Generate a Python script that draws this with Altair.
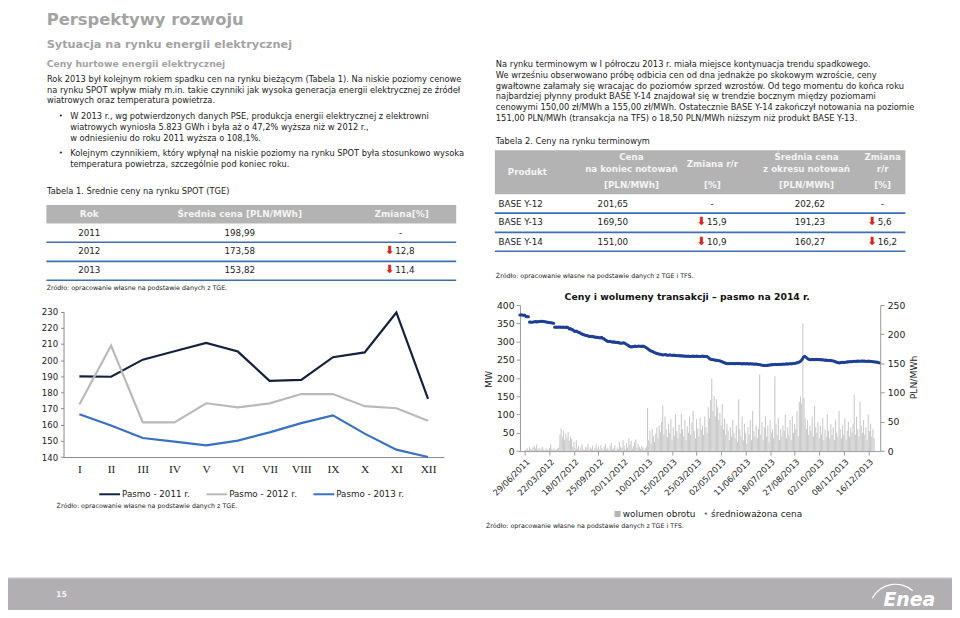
import json
import altair as alt
import pandas as pd

OFF = 8
W, H = 952, 602
FONT = "DejaVu Sans"
SERIF = "Liberation Serif"

# ---------------- data ----------------
months = list(range(1, 13))
month_labels = ["I", "II", "III", "IV", "V", "VI", "VII", "VIII", "IX", "X", "XI", "XII"]
pasmo_2011 = [190.0, 189.7, 200.3, 205.5, 210.7, 205.3, 187.2, 187.8, 201.8, 204.8, 229.5, 176.0]
pasmo_2012 = [172.5, 209.0, 161.5, 161.5, 173.3, 170.8, 173.2, 179.0, 179.0, 171.5, 170.2, 162.5]
pasmo_2013 = [166.5, 159.5, 151.8, 149.5, 147.2, 150.2, 155.3, 161.0, 165.8, 154.5, 144.6, 140.0]
series_names = ["Pasmo - 2011 r.", "Pasmo - 2012 r.", "Pasmo - 2013 r."]
series_colors = ["#14213d", "#b9b9b9", "#3a70c2"]
line_y_ticks = [140, 150, 160, 170, 180, 190, 200, 210, 220, 230]

session_labels = ["29/06/2011", "22/03/2012", "18/07/2012", "25/09/2012", "20/11/2012",
                  "10/01/2013", "15/02/2013", "25/03/2013", "02/05/2013", "11/06/2013",
                  "18/07/2013", "27/08/2013", "02/10/2013", "08/11/2013", "16/12/2013"]
LABEL_STEP = 21
mw_ticks = [0, 50, 100, 150, 200, 250, 300, 350, 400]
pln_ticks = [0, 50, 100, 150, 200, 250]

volume_mw = [
    2, 5, 8, 3, 12, 6, 4, 10, 15, 7, 18, 5, 9, 3, 6, 11, 4, 2, 7, 5,
    3, 8, 18, 6, 4, 9, 2, 5, 7, 10, 45, 62, 38, 55, 30, 48, 35, 52, 28, 40,
    33, 12, 25, 8, 30, 6, 14, 4, 9, 18, 5, 3, 12, 7, 20, 4, 10, 6, 15, 3,
    8, 18, 5, 11, 3, 16, 7, 4, 12, 20, 6, 9, 3, 14, 22, 5, 8, 17, 4, 10,
    6, 25, 12, 8, 30, 15, 5, 22, 10, 35, 18, 28, 7, 14, 25, 32, 9, 20, 12, 6,
    15, 10, 4, 8, 12, 118, 30, 55, 20, 60, 42, 25, 48, 65, 35, 70, 52, 80, 125, 45,
    95, 60, 38, 75, 50, 88, 30, 65, 42, 100, 55, 35, 72, 48, 102, 60, 40, 85, 30, 68,
    50, 95, 45, 78, 110, 55, 35, 88, 62, 40, 92, 58, 70, 45, 95, 65, 50, 120, 90, 140,
    198, 110, 150, 95, 142, 120, 85, 105, 70, 130, 60, 90, 45, 75, 55, 30, 65, 40, 85, 50,
    35, 70, 25, 142, 60, 40, 95, 30, 75, 50, 20, 65, 45, 85, 30, 110, 55, 40, 70, 35,
    60, 210, 45, 80, 30, 65, 95, 40, 70, 25, 85, 50, 60, 35, 205, 75, 45, 90, 30, 60,
    40, 70, 55, 100, 35, 65, 45, 85, 30, 95, 50, 75, 60, 110, 40, 135, 150, 130, 350, 145,
    90, 60, 85, 45, 70, 55, 95, 40, 124, 65, 50, 80, 35, 70, 45, 90, 30, 60, 40, 100,
    55, 35, 75, 45, 65, 30, 85, 50, 40, 110, 60, 35, 70, 45, 90, 30, 55, 80, 40, 65,
    50, 75, 155, 45, 95, 60, 40, 135, 70, 50, 85, 45, 65, 30, 100, 55, 75, 40, 60, 35,
]

price_pln = [
    233.0, 233.2, 232.8, 232.6, 232.9,
    230.4, 230.1, 230.0,
    220.8, 221.0, 220.6, 220.9, 221.3, 221.5, 221.2, 221.6, 221.8, 222.0, 222.3, 222.1,
    221.7, 221.4, 221.0, 220.6, 220.3, 219.9, 219.6, 219.2, 218.9,
    212.1, 212.3, 212.0, 212.2, 212.4, 212.1, 211.9, 212.2, 212.0, 211.8, 212.1, 211.6,
    208.9, 209.6, 208.4, 207.5, 205.8, 204.9, 205.6, 204.2, 203.1, 202.4,
    200.8, 200.1, 199.3, 198.7, 197.9, 197.6, 196.8, 196.2, 196.5, 196.3,
    195.9, 195.2, 195.0, 194.6, 194.8, 194.1, 193.7, 194.6, 193.2, 192.0,
    190.4, 189.1, 187.8, 187.5, 187.9, 187.2, 186.6, 186.9, 186.4, 186.0,
    186.1, 185.7, 185.2, 184.6, 184.9, 185.3, 185.0, 183.8, 182.4, 181.0,
    179.6, 178.7, 178.2, 178.9, 179.3, 179.6, 179.1, 179.4, 179.8, 179.5,
    179.2, 179.6, 179.3, 178.6, 177.4, 176.0, 174.3, 172.8, 171.6, 170.8,
    169.9, 168.8, 167.9, 167.2, 166.6, 166.0, 165.6, 165.2, 164.4, 164.9,
    165.3, 164.6, 164.0, 164.4, 164.7, 164.1, 163.9, 164.3, 163.8, 163.5,
    163.7, 163.2, 163.4, 162.9, 163.1, 162.6, 162.8, 162.5, 162.3, 162.6,
    162.4, 162.0, 162.2, 162.5, 162.1, 162.3, 162.6, 162.2, 162.4, 162.0,
    162.3, 162.5, 162.1, 162.4, 162.0, 161.6, 160.0, 158.2, 157.0, 156.7,
    156.4, 156.0, 155.6, 155.3, 155.1, 154.6, 154.0, 153.2, 152.3, 151.4,
    150.6, 150.0, 149.6, 149.8, 149.9, 149.7, 150.0, 149.8, 149.6, 149.9,
    150.1, 149.8, 149.9, 149.6, 149.4, 149.7, 149.5, 149.3, 149.6, 149.4,
    149.2, 149.5, 149.3, 149.0, 148.8, 149.1, 148.9, 148.6, 148.2, 147.8,
    147.4, 147.0, 146.8, 146.6, 147.0, 146.8, 147.2, 147.4, 147.6, 147.9,
    148.1, 148.2, 148.4, 148.2, 148.5, 148.7, 148.4, 148.6, 148.9, 148.7,
    149.0, 149.2, 149.0, 149.3, 149.5, 149.4, 149.8, 150.0, 150.3, 150.8,
    151.4, 152.0, 153.0, 154.5, 157.0, 160.5, 162.3, 161.0, 159.4, 157.6,
    156.8, 156.3, 156.6, 156.9, 156.5, 156.7, 157.0, 156.6, 156.8, 156.5,
    156.2, 156.4, 156.0, 155.6, 155.8, 155.3, 155.0, 155.2, 154.8, 154.6,
    154.3, 153.6, 152.8, 151.9, 151.2, 151.0, 151.4, 152.0, 152.1, 151.8,
    152.1, 152.4, 152.6, 152.9, 153.2, 153.0, 153.4, 153.6, 153.8, 153.6,
    153.9, 154.1, 153.8, 154.0, 154.2, 153.9, 154.1, 153.8, 153.6, 153.9,
    153.7, 153.5, 153.3, 153.0, 152.8, 152.5, 152.3, 152.0, 151.0,
]

# table contents
t1_head = ["Rok", "Średnia cena [PLN/MWh]", "Zmiana[%]"]
t1_years = ["2011", "2012", "2013"]
t1_prices = ["198,99", "173,58", "153,82"]
t1_change = ["-", "12,8", "11,4"]

t2_products = ["BASE Y-12", "BASE Y-13", "BASE Y-14"]
t2_close = ["201,65", "169,50", "151,00"]
t2_close_chg = ["-", "15,9", "10,9"]
t2_avg = ["202,62", "191,23", "160,27"]
t2_avg_chg = ["-", "5,6", "16,2"]

left_par = [
    "Rok 2013 był kolejnym rokiem spadku cen na rynku bieżącym (Tabela 1). Na niskie poziomy cenowe",
    "na rynku SPOT wpływ miały m.in. takie czynniki jak wysoka generacja energii elektrycznej ze źródeł",
    "wiatrowych oraz temperatura powietrza.",
]
bullet1 = [
    "W 2013 r., wg potwierdzonych danych PSE, produkcja energii elektrycznej z elektrowni",
    "wiatrowych wyniosła 5.823 GWh i była aż o 47,2% wyższa niż w 2012 r.,",
    "w odniesieniu do roku 2011 wyższa o 108,1%.",
]
bullet2 = [
    "Kolejnym czynnikiem, który wpłynął na niskie poziomy na rynku SPOT była stosunkowo wysoka",
    "temperatura powietrza, szczególnie pod koniec roku.",
]
right_par = [
    "Na rynku terminowym w I półroczu 2013 r. miała miejsce kontynuacja trendu spadkowego.",
    "We wrześniu obserwowano próbę odbicia cen od dna jednakże po skokowym wzroście, ceny",
    "gwałtowne załamały się wracając do poziomów sprzed wzrostów. Od tego momentu do końca roku",
    "najbardziej płynny produkt BASE Y-14 znajdował się w trendzie bocznym między poziomami",
    "cenowymi 150,00 zł/MWh a 155,00 zł/MWh. Ostatecznie BASE Y-14 zakończył notowania na poziomie",
    "151,00 PLN/MWh (transakcja na TFS) o 18,50 PLN/MWh niższym niż produkt BASE Y-13.",
]
src_tge = "Źródło: opracowanie własne na podstawie danych z TGE."
src_tge_tfs = "Źródło: opracowanie własne na podstawie danych z TGE i TFS."


# ---------------- helpers (page coordinates -> chart coordinates) ----------------
def text_layer(rows, size, color="#222222", weight="normal", align="left",
               baseline="middle", font=FONT, angle=0, style="normal"):
    df = pd.DataFrame(rows, columns=["px", "py", "t"])
    df["px"] = df["px"] - OFF
    df["py"] = df["py"] - OFF
    return alt.Chart(df).mark_text(
        fontSize=size, color=color, fontWeight=weight, align=align,
        baseline=baseline, font=font, angle=angle, fontStyle=style
    ).encode(
        x=alt.X("px:Q", scale=None, axis=None),
        y=alt.Y("py:Q", scale=None, axis=None),
        text="t:N",
    )


def rect_layer(rows, color):
    df = pd.DataFrame(rows, columns=["x1", "x2", "y1", "y2"]) - OFF
    return alt.Chart(df).mark_rect(color=color).encode(
        x=alt.X("x1:Q", scale=None, axis=None), x2="x2:Q",
        y=alt.Y("y1:Q", scale=None, axis=None), y2="y2:Q",
    )


def hrule_layer(rows, color, width):
    df = pd.DataFrame(rows, columns=["x1", "x2", "py"]) - OFF
    return alt.Chart(df).mark_rule(color=color, strokeWidth=width).encode(
        x=alt.X("x1:Q", scale=None, axis=None), x2="x2:Q",
        y=alt.Y("py:Q", scale=None, axis=None),
    )


layers = []

# footer band
layers.append(rect_layer([(0, 960, 580, 620)], "#b1afb2"))
layers.append(hrule_layer([(0, 960, 580.5)], "#c9c8ca", 1))

# table header backgrounds
layers.append(rect_layer([(46.7, 460, 204, 222.7), (499, 913, 149, 193.3)], "#b3b3b3"))
# table separators
layers.append(hrule_layer([(46.7, 460, 241.7), (46.7, 460, 261), (46.7, 460, 280),
                           (499, 913, 212.3), (499, 913, 231.7), (499, 913, 250.7)],
                          "#3d6fb0", 1.6))

# headings
layers.append(text_layer([(47, 23, "Perspektywy rozwoju")], 16.5, "#a3a3a3", "bold", baseline="alphabetic"))
layers.append(text_layer([(47, 46, "Sytuacja na rynku energii elektrycznej")], 11.4, "#a3a3a3", "bold", baseline="alphabetic"))
layers.append(text_layer([(47, 65, "Ceny hurtowe energii elektrycznej")], 9.3, "#a3a3a3", "bold", baseline="alphabetic"))

# body text
BODY = 8.35
body_rows = []
for i, s in enumerate(left_par):
    body_rows.append((47.3, [76.7, 87.7, 98.7][i], s))
for i, s in enumerate(bullet1):
    body_rows.append((70.7, [114.5, 125.5, 137][i], s))
for i, s in enumerate(bullet2):
    body_rows.append((70.7, [151.5, 163][i], s))
body_rows.append((47.3, 190.5, "Tabela 1. Średnie ceny na rynku SPOT (TGE)"))
for i, s in enumerate(right_par):
    body_rows.append((500, [61.7, 72.7, 83.7, 94.3, 105, 116][i], s))
body_rows.append((500, 139.3, "Tabela 2. Ceny na rynku terminowym"))
layers.append(text_layer(body_rows, BODY))
layers.append(text_layer([(59.3, 114.5, "•"), (59.3, 151.5, "•")], 7))

# table 1
layers.append(text_layer([(90, 213.3, t1_head[0]), (241.7, 213.3, t1_head[1]), (405, 213.3, t1_head[2])],
                         9, "#f4f4f4", "bold", align="center"))
ry1 = [232.3, 250.7, 269.3]
t1_center = []
t1_left = []
t1_arrows = []
for i in range(3):
    t1_center.append((90, ry1[i], t1_years[i]))
    t1_center.append((241.7, ry1[i], t1_prices[i]))
    if t1_change[i] == "-":
        t1_center.append((404, ry1[i], "-"))
    else:
        t1_arrows.append((393, ry1[i], "⬇"))
        t1_left.append((398.5, ry1[i], t1_change[i]))
layers.append(text_layer(t1_center, 8.8, align="center"))
layers.append(text_layer(t1_left, 8.8))

# table 2
t2_head = [(531.7, 170.7, "Produkt"),
           (636.7, 156, "Cena"), (636.7, 168.3, "na koniec notowań"), (636.7, 184.3, "[PLN/MWh]"),
           (718.3, 163.3, "Zmiana r/r"), (718.3, 184.3, "[%]"),
           (813.3, 156, "Średnia cena"), (813.3, 168.3, "z okresu notowań"), (813.3, 184.3, "[PLN/MWh]"),
           (890, 156, "Zmiana"), (890, 168.3, "r/r"), (890, 184.3, "[%]")]
layers.append(text_layer(t2_head, 8.8, "#f4f4f4", "bold", align="center"))
ry2 = [203.3, 221.7, 241]
t2_center, t2_left, t2_arrows = [], [], []
for i in range(3):
    t2_left.append((502.7, ry2[i], t2_products[i]))
    t2_center.append((618, ry2[i], t2_close[i]))
    t2_center.append((816.7, ry2[i], t2_avg[i]))
    if t2_close_chg[i] == "-":
        t2_center.append((718, ry2[i], "-"))
    else:
        t2_arrows.append((707.5, ry2[i], "⬇"))
        t2_left.append((713, ry2[i], t2_close_chg[i]))
    if t2_avg_chg[i] == "-":
        t2_center.append((890, ry2[i], "-"))
    else:
        t2_arrows.append((879.5, ry2[i], "⬇"))
        t2_left.append((885, ry2[i], t2_avg_chg[i]))
layers.append(text_layer(t2_center, 8.8, align="center"))
layers.append(text_layer(t2_left, 8.8))
layers.append(text_layer(t1_arrows + t2_arrows, 11.5, "#d9261c", "bold", align="center"))

# sources
layers.append(text_layer([(47, 288, src_tge), (57, 508, src_tge), (500, 276, src_tge_tfs), (490, 528, src_tge_tfs)], 6.4))

# ---------------- line chart (SPOT) ----------------
line_df = pd.DataFrame({
    "m": months * 3,
    "v": pasmo_2011 + pasmo_2012 + pasmo_2013,
    "s": [n for n in series_names for _ in months],
})
roman_expr = json.dumps(month_labels) + "[datum.value - 1]"
line_chart = alt.Chart(line_df).mark_line(strokeWidth=2.2).encode(
    x=alt.X("m:Q",
            scale=alt.Scale(domain=[0.5, 12.5], range=[64 - OFF, 447.6 - OFF], nice=False, zero=False),
            axis=alt.Axis(orient="bottom", offset=(458.3 - OFF) - H, values=months, labelExpr=roman_expr,
                          title=None, grid=False, ticks=False, domainColor="#8a8a8a",
                          labelFont=SERIF, labelFontSize=11.5, labelColor="#222222", labelPadding=7)),
    y=alt.Y("v:Q",
            scale=alt.Scale(domain=[140, 230], range=[458.3 - OFF, 311.7 - OFF], nice=False, zero=False),
            axis=alt.Axis(orient="left", offset=-(64 - OFF), values=line_y_ticks, title=None, grid=False,
                          tickSize=3, tickColor="#8a8a8a", domainColor="#8a8a8a",
                          labelFont=FONT, labelFontSize=8.6, labelColor="#222222", labelPadding=3)),
    color=alt.Color("s:N", scale=alt.Scale(domain=series_names, range=series_colors),
                    legend=alt.Legend(orient="none", legendX=99 - OFF, legendY=484 - OFF,
                                      direction="horizontal", title=None, symbolType="stroke",
                                      symbolSize=440, symbolStrokeWidth=2, labelFont=FONT,
                                      labelFontSize=8.8, labelColor="#222222", columnPadding=12,
                                      labelOffset=1)),
)
layers.append(line_chart)

# ---------------- volume / price chart ----------------
vol_df = pd.DataFrame({"i": list(range(len(volume_mw))), "mw": volume_mw})
price_df = pd.DataFrame({"i": list(range(len(price_pln))), "p": price_pln})
x_sess = alt.Scale(domain=[0, 300], range=[524.3 - OFF, 887.6 - OFF], nice=False, zero=False)
date_expr = json.dumps(session_labels) + f"[round(datum.value / {LABEL_STEP})]"

bars = alt.Chart(vol_df).mark_bar(color="#cacaca", size=1.1).encode(
    x=alt.X("i:Q", scale=x_sess,
            axis=alt.Axis(orient="bottom", offset=(452.3 - OFF) - H,
                          values=[LABEL_STEP * k for k in range(len(session_labels))],
                          labelExpr=date_expr, labelAngle=315, labelAlign="right", labelBaseline="top",
                          labelOverlap=False, labelBound=False,
                          title=None, grid=False, tickSize=4, tickColor="#9a9a9a", domainColor="#9a9a9a",
                          labelFont=FONT, labelFontSize=8.4, labelColor="#222222", labelPadding=2)),
    y=alt.Y("mw:Q", scale=alt.Scale(domain=[0, 400], range=[452.3 - OFF, 305 - OFF], nice=False),
            axis=alt.Axis(orient="left", offset=-(524.3 - OFF), values=mw_ticks, title=None, grid=False,
                          tickSize=4, tickColor="#9a9a9a", domainColor="#9a9a9a",
                          labelFont=FONT, labelFontSize=9.3, labelColor="#222222", labelPadding=2)),
)
layers.append(bars)

pts = alt.Chart(price_df).mark_circle(size=10, color="#1f3f95", opacity=1).encode(
    x=alt.X("i:Q", scale=x_sess, axis=None),
    y=alt.Y("p:Q", scale=alt.Scale(domain=[0, 250], range=[452.3 - OFF, 305 - OFF], nice=False),
            axis=alt.Axis(orient="right", offset=(887.6 - OFF) - W, values=pln_ticks, title=None, grid=False,
                          tickSize=4, tickColor="#9a9a9a", domainColor="#9a9a9a",
                          labelFont=FONT, labelFontSize=9.3, labelColor="#222222", labelPadding=3)),
)
layers.append(pts)

layers.append(text_layer([(693, 297, "Ceny i wolumeny transakcji – pasmo na 2014 r.")], 9.4, "#111111", "bold", align="center"))
layers.append(text_layer([(493, 380, "MW"), (921.7, 378, "PLN/MWh")], 9.3, align="center", angle=270))
layers.append(text_layer([(622.7, 515.7, "■")], 8, "#b5b5b5", align="center"))
layers.append(text_layer([(711.7, 515.7, "•")], 7, "#1f3f95", align="center"))
layers.append(text_layer([(628, 515.7, "wolumen obrotu"), (717, 515.7, "średnioważona cena")], 9))

# footer content
layers.append(text_layer([(62, 597, "15")], 8, "#f4f4f4", "bold", align="center"))
layers.append(text_layer([(917, 609, "Enea")], 19, "#ffffff", "bold", align="center",
                         baseline="alphabetic", style="italic"))
layers.append(alt.Chart(pd.DataFrame({"k": [0]})).mark_arc(color="#ffffff").encode(
    x=alt.value(903 - OFF), y=alt.value(613 - OFF),
    theta=alt.value(5.2), theta2=alt.value(7.0),
    radius=alt.value(27), radius2=alt.value(25.8)))

chart = alt.layer(*layers).resolve_scale(
    x="independent", y="independent", color="independent"
).properties(
    width=W, height=H, padding=0, autosize=alt.AutoSizeParams(type="none"),
    background="#ffffff",
).configure_view(stroke=None)

chart.save("out.html", embed_options={"renderer": "svg", "actions": False})
